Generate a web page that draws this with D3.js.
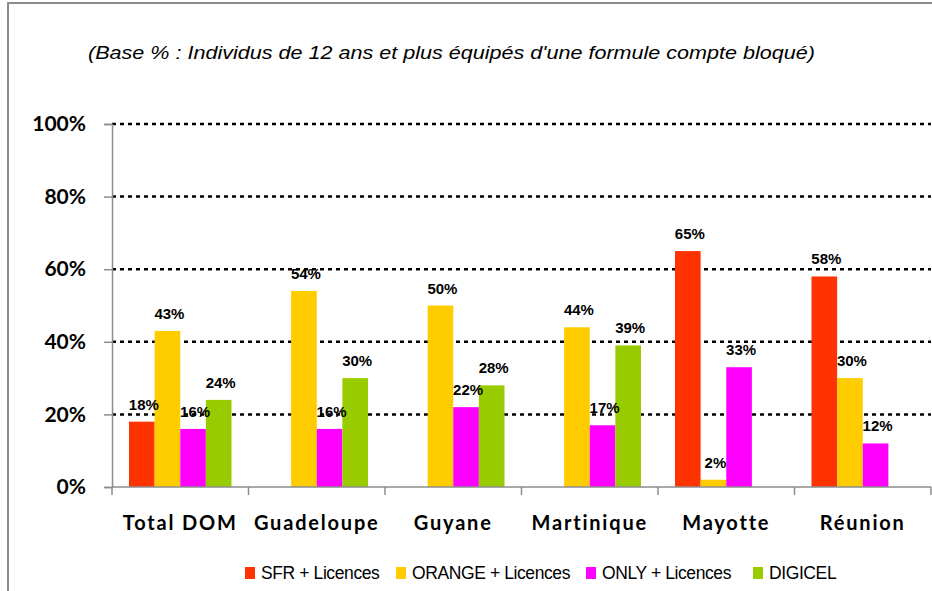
<!DOCTYPE html>
<html>
<head>
<meta charset="utf-8">
<script src="https://cdn.jsdelivr.net/npm/d3@7"></script>
<style>
  body { margin: 0; background: #fff; }
  svg { display: block; }
</style>
</head>
<body>
<svg width="932" height="591"></svg>
<script>
const categories = ["Total DOM", "Guadeloupe", "Guyane", "Martinique", "Mayotte", "Réunion"];
const seriesNames = ["SFR + Licences", "ORANGE + Licences", "ONLY + Licences", "DIGICEL"];
const sfr = [18, 0, 0, 0, 65, 58];
const orange = [43, 54, 50, 44, 2, 30];
const only = [16, 16, 22, 17, 33, 12];
const digicel = [24, 30, 28, 39, 0, 0];
const colors = ["#FF3300", "#FFCC00", "#FF00FF", "#99CC00"];
const yTicks = [0, 20, 40, 60, 80, 100];

const values = [sfr, orange, only, digicel];

const svg = d3.select("svg");

// frame (cut on right / bottom like the original)
svg.append("path")
  .attr("d", "M8,591 V3 H932")
  .attr("fill", "none")
  .attr("stroke", "#8c8c8c")
  .attr("stroke-width", 2);

svg.append("text")
  .attr("x", 88).attr("y", 59)
  .attr("textLength", 727)
  .attr("lengthAdjust", "spacingAndGlyphs")
  .style("font-family", "Liberation Sans, Arial, sans-serif")
  .style("font-style", "italic")
  .style("font-size", "19px")
  .text("(Base % : Individus de 12 ans et plus équipés d'une formule compte bloqué)");

const x = d3.scaleBand().domain(categories).range([112, 931]);
const y = d3.scaleLinear().domain([0, 100]).range([487, 124]);
const groupPad = 17;
const xs = d3.scaleBand().domain(d3.range(seriesNames.length))
  .range([groupPad, x.bandwidth() - groupPad]);

// gridlines
svg.append("g").selectAll("line")
  .data(yTicks.filter(d => d > 0))
  .join("line")
  .attr("x1", 112).attr("x2", 931)
  .attr("y1", d => y(d)).attr("y2", d => y(d))
  .attr("stroke", "#000")
  .attr("stroke-width", 2.5)
  .attr("stroke-dasharray", "4,4");

// bars
const groups = svg.append("g").selectAll("g")
  .data(categories)
  .join("g")
  .attr("transform", d => `translate(${x(d)},0)`);

const cells = (d, i) => values.map((v, s) => ({ s, v: v[i] })).filter(e => e.v > 0);

groups.selectAll("rect")
  .data(cells)
  .join("rect")
  .attr("x", d => xs(d.s))
  .attr("width", xs.bandwidth())
  .attr("y", d => y(d.v))
  .attr("height", d => y(0) - y(d.v))
  .attr("fill", d => colors[d.s]);

groups.selectAll("text")
  .data(cells)
  .join("text")
  .attr("x", d => xs(d.s) + xs.bandwidth() / 2 + 2)
  .attr("y", d => y(d.v) - 12)
  .attr("text-anchor", "middle")
  .style("font-family", "Liberation Sans, Arial, sans-serif")
  .style("font-weight", "bold")
  .style("font-size", "15px")
  .text(d => d.v + "%");

// y axis
const yAxis = svg.append("g")
  .attr("transform", "translate(112,0)")
  .call(d3.axisLeft(y).tickValues(yTicks).tickFormat(d => d + "%").tickSize(8).tickPadding(18));
yAxis.selectAll("line, path").attr("stroke", "#8c8c8c").attr("stroke-width", 1.5);
yAxis.selectAll("text")
  .style("font-family", "Lato, sans-serif")
  .style("font-weight", "bold")
  .style("font-size", "21px")
  .attr("fill", "#000");

// x axis
const xAxis = svg.append("g")
  .attr("transform", "translate(0,487)");
xAxis.append("line")
  .attr("x1", 112).attr("x2", 931)
  .attr("stroke", "#8c8c8c").attr("stroke-width", 1.5);
xAxis.selectAll(".tk")
  .data(categories.concat([null]))
  .join("line")
  .attr("class", "tk")
  .attr("x1", (d, i) => 112 + i * x.bandwidth())
  .attr("x2", (d, i) => 112 + i * x.bandwidth())
  .attr("y1", 0).attr("y2", 8)
  .attr("stroke", "#8c8c8c").attr("stroke-width", 1.5);
xAxis.selectAll("text")
  .data(categories)
  .join("text")
  .attr("x", d => x(d) + x.bandwidth() / 2)
  .attr("y", 43)
  .attr("text-anchor", "middle")
  .style("font-family", "Lato, sans-serif")
  .style("font-weight", "bold")
  .style("font-size", "20px")
  .style("letter-spacing", "1.8px")
  .text(d => d);

// legend
const legendX = [245, 396, 586, 753];
const legend = svg.append("g").selectAll("g")
  .data(seriesNames)
  .join("g")
  .attr("transform", (d, i) => `translate(${legendX[i]},567)`);
legend.append("rect")
  .attr("width", 10).attr("height", 12)
  .attr("fill", (d, i) => colors[i]);
legend.append("text")
  .attr("x", 16).attr("y", 12)
  .style("font-family", "Liberation Sans, Arial, sans-serif")
  .style("font-size", "17.5px")
  .style("letter-spacing", "-0.4px")
  .text(d => d);
</script>
</body>
</html>
